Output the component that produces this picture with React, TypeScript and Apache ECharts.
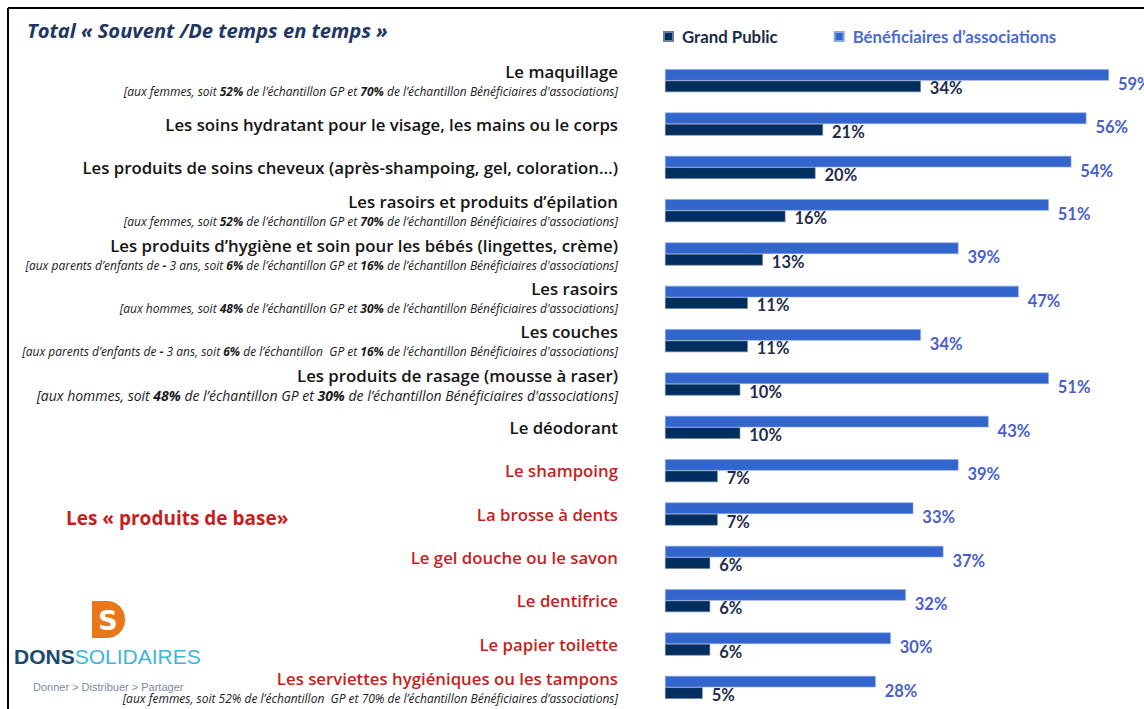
import React, { useEffect, useRef } from "react";
import * as echarts from "echarts";

const categories = [
  "Le maquillage",
  "Les soins hydratant pour le visage, les mains ou le corps",
  "Les produits de soins cheveux (après-shampoing, gel, coloration…)",
  "Les rasoirs et produits d’épilation",
  "Les produits d’hygiène et soin pour les bébés (lingettes, crème)",
  "Les rasoirs",
  "Les couches",
  "Les produits de rasage (mousse à raser)",
  "Le déodorant",
  "Le shampoing",
  "La brosse à dents",
  "Le gel douche ou le savon",
  "Le dentifrice",
  "Le papier toilette",
  "Les serviettes hygiéniques ou les tampons",
];

const notes = [
  "[aux femmes, soit **52%** de l’échantillon GP et **70%** de l’échantillon Bénéficiaires d'associations]",
  "",
  "",
  "[aux femmes, soit **52%** de l’échantillon GP et **70%** de l’échantillon Bénéficiaires d'associations]",
  "[aux parents d’enfants de **-** 3 ans, soit **6%** de l’échantillon GP et **16%** de l’échantillon Bénéficiaires d'associations]",
  "[aux hommes, soit **48%** de l’échantillon GP et **30%** de l’échantillon Bénéficiaires d'associations]",
  "[aux parents d’enfants de **-** 3 ans, soit **6%** de l’échantillon  GP et **16%** de l’échantillon Bénéficiaires d'associations]",
  "[aux hommes, soit **48%** de l’échantillon GP et **30%** de l’échantillon Bénéficiaires d'associations]",
  "",
  "",
  "",
  "",
  "",
  "",
  "[aux femmes, soit 52% de l’échantillon  GP et 70% de l’échantillon Bénéficiaires d’associations]",
];

const grandPublic = [34, 21, 20, 16, 13, 11, 11, 10, 10, 7, 7, 6, 6, 6, 5];
const beneficiaires = [59, 56, 54, 51, 39, 47, 34, 51, 43, 39, 33, 37, 32, 30, 28];

const baseProducts = [
  "Le shampoing",
  "La brosse à dents",
  "Le gel douche ou le savon",
  "Le dentifrice",
  "Le papier toilette",
  "Les serviettes hygiéniques ou les tampons",
];
const largeNoteCategories = ["Les produits de rasage (mousse à raser)"];

const seriesNames = ["Grand Public", "Bénéficiaires d’associations"];

const DARK = "#002f5f";
const BLUE = "#3366cc";
const RED = "#c81e1e";
const LATO = "Lato, 'Open Sans', sans-serif";
const OPEN = "'Open Sans', Lato, sans-serif";

function buildLabel(value: string, index: number): string {
  const mainStyle = baseProducts.includes(value) ? "red" : "main";
  let out = `{${mainStyle}|${value}}`;
  const note = notes[index];
  if (note) {
    const large = largeNoteCategories.includes(value);
    const segs = note
      .split("**")
      .map((p, i) => {
        if (!p) return "";
        const st = (large ? "L" : "n") + (i % 2 === 1 ? "b" : "");
        return `{${st}|${p}}`;
      })
      .join("");
    out += "\n" + segs;
  }
  return out;
}

export default function App() {
  const ref = useRef<HTMLDivElement>(null);

  useEffect(() => {
    if (!ref.current) return;
    const chart = echarts.init(ref.current, null, { renderer: "svg" });

    const noteBase = {
      fontFamily: OPEN,
      fontStyle: "italic" as const,
      color: "#1a1a1a",
      fontSize: 12,
      lineHeight: 18,
    };
    const mainBase = {
      fontFamily: OPEN,
      fontSize: 16.8,
      fontWeight: 600,
      lineHeight: 22,
      align: "right" as const,
    };

    chart.setOption({
      animation: false,
      backgroundColor: "#ffffff",
      legend: {
        left: 658,
        top: 23,
        itemWidth: 9,
        itemHeight: 9,
        itemGap: 56,
        icon: "rect",
        data: [
          { name: seriesNames[0], textStyle: { color: "#1b2a47" } },
          { name: seriesNames[1], textStyle: { color: "#4a6ad2" } },
        ],
        textStyle: {
          fontFamily: LATO,
          fontSize: 16.8,
          fontWeight: "bold",
          padding: [0, 0, 0, 4],
        },
      },
      grid: {
        left: 665,
        top: 59,
        width: 451.5,
        height: 664.5,
        containLabel: false,
      },
      xAxis: {
        type: "value",
        min: 0,
        max: 60,
        show: false,
      },
      yAxis: {
        type: "category",
        inverse: true,
        data: categories,
        axisLine: { show: false },
        axisTick: { show: false },
        splitLine: { show: false },
        axisLabel: {
          margin: 47,
          align: "right",
          formatter: buildLabel,
          rich: {
            main: { ...mainBase, color: "#141414" },
            red: { ...mainBase, color: RED },
            n: { ...noteBase },
            nb: { ...noteBase, fontWeight: "bold" },
            L: { ...noteBase, fontSize: 14 },
            Lb: { ...noteBase, fontSize: 14, fontWeight: "bold" },
          },
        },
      },
      series: [
        {
          name: seriesNames[1],
          type: "bar",
          data: beneficiaires,
          barWidth: 11.5,
          barGap: "0%",
          itemStyle: { color: BLUE, borderColor: "#8fa6e6", borderWidth: 0.6 },
          label: {
            show: true,
            position: "right",
            distance: 9,
            offset: [0, 9],
            formatter: "{c}%",
            fontFamily: LATO,
            fontSize: 16.5,
            fontWeight: "bold",
            color: "#4a60c8",
          },
        },
        {
          name: seriesNames[0],
          type: "bar",
          data: grandPublic,
          barWidth: 11.5,
          barGap: "0%",
          itemStyle: { color: DARK, borderColor: "#6d7f99", borderWidth: 0.6 },
          label: {
            show: true,
            position: "right",
            distance: 9,
            offset: [0, 2],
            formatter: "{c}%",
            fontFamily: LATO,
            fontSize: 16.5,
            fontWeight: "bold",
            color: "#1f2d4d",
          },
        },
      ],
      graphic: [
        {
          type: "line",
          shape: { x1: 8, y1: 8, x2: 1144, y2: 8 },
          style: { stroke: "#000", lineWidth: 2 },
        },
        {
          type: "line",
          shape: { x1: 8, y1: 8, x2: 8, y2: 709 },
          style: { stroke: "#000", lineWidth: 2 },
        },
        {
          type: "text",
          left: 27,
          top: 20,
          style: {
            text: "Total « Souvent /De temps en temps »",
            fontFamily: OPEN,
            fontSize: 20.2,
            fontWeight: "bold",
            fontStyle: "italic",
            fill: "#1f3762",
          },
        },
        {
          type: "text",
          left: 66,
          top: 508,
          style: {
            text: "Les « produits de base»",
            fontFamily: OPEN,
            fontSize: 19,
            fontWeight: "bold",
            fill: RED,
          },
        },
        {
          type: "rect",
          shape: { x: 92, y: 601, width: 33, height: 37, r: [0, 18, 18, 0] },
          style: { fill: "#e8771a" },
        },
        {
          type: "text",
          x: 108,
          y: 620,
          style: {
            text: "S",
            fontFamily: "'DejaVu Sans', sans-serif",
            fontSize: 27,
            fontWeight: "bold",
            fill: "#ffffff",
            align: "center",
            verticalAlign: "middle",
          },
        },
        {
          type: "text",
          left: 14,
          top: 646,
          style: {
            text: "{a|DONS}{b|SOLIDAIRES}",
            rich: {
              a: {
                fontFamily: "'Liberation Sans', Arial, sans-serif",
                fontSize: 21,
                fontWeight: "bold",
                fill: "#1b4a70",
              },
              b: {
                fontFamily: "'Liberation Sans', Arial, sans-serif",
                fontSize: 21,
                fill: "#3fb6d8",
              },
            },
          },
        },
        {
          type: "text",
          left: 33,
          top: 681,
          style: {
            text: "Donner > Distribuer > Partager",
            fontFamily: "'Liberation Sans', Arial, sans-serif",
            fontSize: 11,
            fill: "#7d8aa0",
          },
        },
      ],
    });

    return () => chart.dispose();
  }, []);

  return (
    <div
      ref={ref}
      style={{ position: "fixed", left: 0, top: 0, width: 1144, height: 709 }}
    />
  );
}
